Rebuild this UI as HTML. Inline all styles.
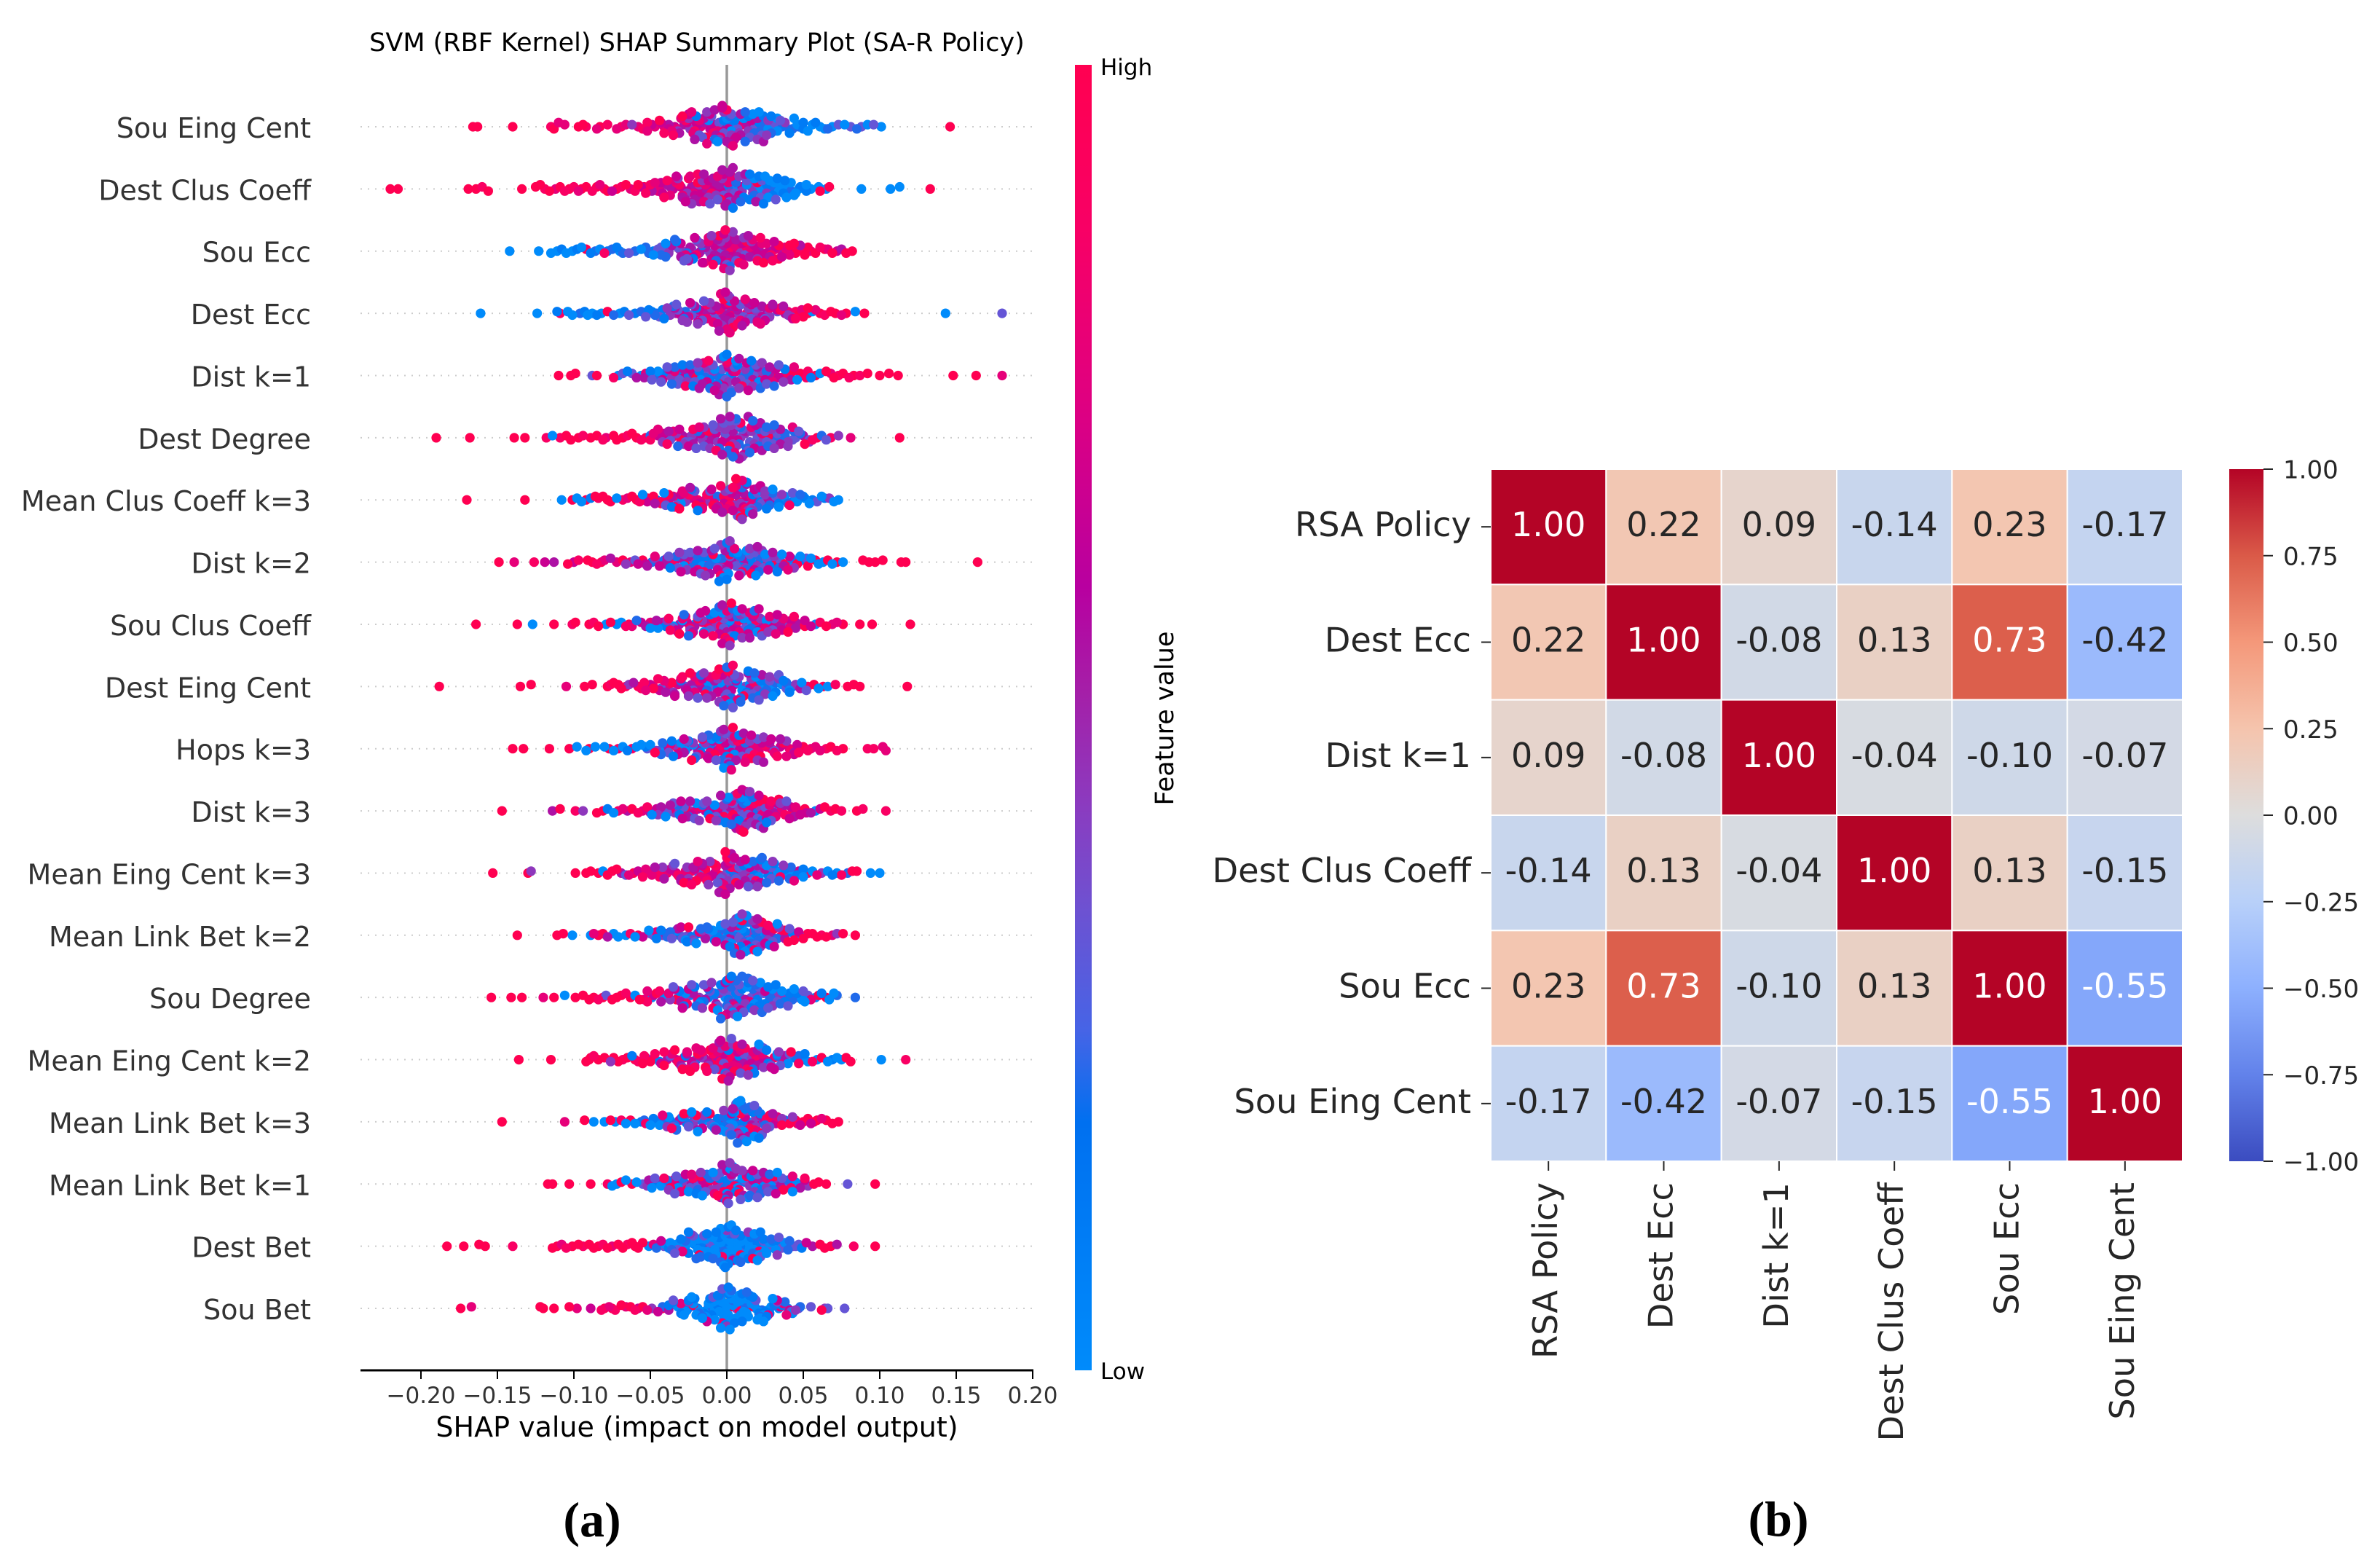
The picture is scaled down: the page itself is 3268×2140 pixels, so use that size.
<!DOCTYPE html>
<html lang="en">
<head>
<meta charset="utf-8">
<title>SHAP summary and correlation heatmap</title>
<style>
html,body{margin:0;padding:0;background:#fff}
svg{display:block}
text{font-family:"DejaVu Sans","Liberation Sans",sans-serif}
.cap{font-family:"Liberation Serif",serif;font-weight:700;font-size:68px}
</style>
</head>
<body>
<svg id="fig" xmlns="http://www.w3.org/2000/svg" width="3268" height="2140" viewBox="0 0 3268 2140">
<rect x="0" y="0" width="3268" height="2140" fill="#fff"/>
<defs>
<linearGradient id="shapGrad" x1="0" y1="1" x2="0" y2="0"></linearGradient>
<linearGradient id="heatGrad" x1="0" y1="1" x2="0" y2="0"></linearGradient>
</defs>
<g id="shapPanel">
<text x="957" y="70" font-size="35" text-anchor="middle" fill="#000">SVM (RBF Kernel) SHAP Summary Plot (SA-R Policy)</text>
<g id="rowLines"></g>
<line x1="998" y1="89" x2="998" y2="1881" stroke="#999" stroke-width="3.5"/>
<g id="dots"></g>
<g id="rowLabels"></g>
<line x1="495" y1="1881" x2="1419" y2="1881" stroke="#000" stroke-width="3"/>
<g id="xAxis"></g>
<text x="957" y="1972" font-size="38" text-anchor="middle" fill="#000">SHAP value (impact on model output)</text>
<rect x="1476" y="89" width="23" height="1792" fill="url(#shapGrad)"/>
<text x="1511" y="103" font-size="31" fill="#000">High</text>
<text x="1511" y="1893" font-size="31" fill="#000">Low</text>
<text transform="translate(1611,986) rotate(-90)" font-size="35" text-anchor="middle" fill="#000">Feature value</text>
<text class="cap" x="813" y="2109" text-anchor="middle" fill="#000">(a)</text>
</g>
<g id="heatPanel">
<g id="heatCells"></g>
<g id="heatAxes"></g>
<rect x="3061" y="644" width="47" height="950" fill="url(#heatGrad)"/>
<g id="heatBar"></g>
<text class="cap" x="2442" y="2108" text-anchor="middle" fill="#000">(b)</text>
</g>
</svg>
<script>
// ---------- SHAP data (values in thousandths of a SHAP unit; feature values on a 0-9 scale) ----------
const featureNames=["Sou Eing Cent","Dest Clus Coeff","Sou Ecc","Dest Ecc","Dist k=1","Dest Degree","Mean Clus Coeff k=3","Dist k=2","Sou Clus Coeff","Dest Eing Cent","Hops k=3","Dist k=3","Mean Eing Cent k=3","Mean Link Bet k=2","Sou Degree","Mean Eing Cent k=2","Mean Link Bet k=3","Mean Link Bet k=1","Dest Bet","Sou Bet"];
const xTickValues=[-0.2,-0.15,-0.1,-0.05,0,0.05,0.1,0.15,0.2];
const xTickLabels=["\u22120.20","\u22120.15","\u22120.10","\u22120.05","0.00","0.05","0.10","0.15","0.20"];

const souEingCentMid=[-52,-47,-43,-41,-38,-36,-34,-32,-30,-28,-27,-25,-24,-22,-21,-20,-18,-17,-15,-13,-11,-10,-8,-6,-5,-3,-2,0,1,3,5,7,9,12,14,15,17,18,20,21,23,24,25,27,29,31,33,36,38,41,43,46,50];
const souEingCentMidFeature=[8,7,6,8,5,7,6,4,7,5,8,6,4,7,5,6,3,7,5,4,6,3,5,7,4,6,3,5,2,4,6,3,5,2,4,3,5,2,4,1,3,5,2,4,1,3,0,2,4,1,2,0,1];
const destClusCoeffMid=[-54,-50,-44,-42,-39,-37,-34,-33,-31,-29,-27,-26,-24,-23,-21,-19,-18,-16,-15,-14,-12,-9,-7,-6,-4,-3,-1,1,2,4,6,8,10,13,15,16,18,19,21,22,24,26,27,29,30,32,34,37,39,42,44,47,52];
const destClusCoeffMidFeature=[9,8,7,6,8,5,7,6,8,5,6,4,7,5,6,8,4,6,5,7,4,6,5,3,6,4,5,7,3,5,2,4,6,3,1,4,2,5,0,3,1,4,0,2,1,3,0,1,0,2,0,0,1];
const souEccMid=[-53,-48,-43,-40,-38,-35,-33,-31,-30,-28,-26,-25,-23,-22,-20,-18,-17,-16,-14,-12,-10,-8,-6,-5,-4,-2,-1,1,2,3,6,8,10,11,13,15,17,19,20,22,24,26,28,29,31,32,34,36,39,41,44,46,51];
const souEccMidFeature=[2,1,3,2,4,3,1,4,5,3,2,5,4,6,3,5,4,6,5,7,4,6,5,8,4,6,5,7,4,6,5,7,6,4,8,5,7,6,4,8,6,7,5,8,6,7,9,6,8,7,9,8,9];
const destEccMid=[-51,-46,-44,-41,-37,-35,-33,-32,-29,-27,-26,-24,-23,-21,-19,-18,-16,-15,-13,-11,-9,-7,-5,-4,-3,-1,0,2,3,4,5,7,9,12,14,16,17,19,20,21,23,25,27,28,30,33,35,38,40,43,45,49,53];
const destEccMidFeature=[1,2,3,1,4,2,5,3,4,2,5,6,3,5,4,6,3,5,7,4,6,3,5,7,4,6,5,3,7,4,6,5,3,7,4,6,5,3,7,4,5,6,4,7,5,6,8,5,4,6,8,7,9];
const distK1Mid=[-54,-49,-44,-42,-39,-36,-34,-33,-31,-29,-28,-26,-24,-22,-21,-19,-18,-16,-14,-13,-11,-9,-6,-5,-3,-2,0,1,3,4,6,8,11,13,14,15,17,18,20,22,23,25,26,28,30,31,34,37,39,42,44,48,53];
const distK1MidFeature=[5,3,2,6,3,4,2,5,3,1,6,4,2,5,3,4,1,5,3,6,2,4,1,5,3,4,2,6,3,1,5,4,2,3,6,1,4,3,5,2,4,6,3,5,7,2,6,4,8,5,7,9,8];
const destDegreeMid=[-50,-45,-41,-38,-36,-33,-31,-29,-27,-25,-23,-22,-20,-17,-15,-13,-12,-9,-7,-5,-3,-1,1,2,4,6,7,9,10,12,14,15,16,18,20,21,23,24,26,27,28,30,31,33,35,36,38,40,43,44,47,50,54];
const destDegreeMidFeature=[8,7,6,5,7,4,6,5,3,6,4,5,3,6,4,2,5,3,6,4,5,3,2,5,4,3,6,2,4,5,3,2,4,6,3,2,5,4,3,2,5,3,4,2,5,3,2,4,3,2,3,5,4];
const meanClusK3Mid=[-52,-47,-43,-40,-38,-36,-34,-32,-30,-29,-27,-25,-24,-22,-21,-19,-18,-16,-14,-12,-10,-8,-6,-4,-2,0,1,2,4,6,8,10,11,13,14,16,17,19,20,22,23,25,26,28,30,32,34,36,37,40,43,45,50];
const meanClusK3MidFeature=[6,5,8,3,7,5,8,2,6,7,4,8,5,7,3,8,6,7,4,8,6,7,5,8,6,7,4,8,6,5,7,4,6,5,3,7,4,5,2,6,3,4,1,5,2,3,1,4,0,2,3,0,1];
const distK2Mid=[-53,-47,-43,-40,-38,-35,-33,-31,-30,-28,-26,-25,-24,-22,-20,-19,-17,-15,-14,-12,-10,-8,-6,-4,-3,-1,0,2,3,5,7,9,11,13,15,16,18,20,21,23,24,26,27,29,31,33,35,37,40,42,44,47,52];
const distK2MidFeature=[6,7,4,5,3,6,2,4,5,3,1,5,3,4,2,5,1,3,4,2,5,1,3,4,2,5,1,3,2,4,1,3,5,2,4,1,3,5,2,4,1,3,6,2,4,1,3,5,7,2,4,6,3];
const souClusCoeffMid=[-50,-46,-42,-39,-37,-35,-32,-31,-29,-28,-26,-24,-23,-21,-19,-17,-16,-15,-13,-11,-9,-7,-5,-3,-2,0,2,3,4,6,8,10,12,14,15,16,18,19,21,23,24,25,27,29,30,32,35,36,38,41,44,45,51];
const souClusCoeffMidFeature=[7,5,6,4,8,3,6,5,7,2,6,4,7,5,3,6,4,7,5,3,8,4,6,5,3,7,4,6,2,5,7,4,3,6,5,2,7,4,6,3,5,7,4,6,3,7,5,6,4,7,8,5,6];
const destEingCentMid=[-54,-48,-44,-40,-38,-35,-34,-31,-30,-27,-26,-25,-23,-21,-19,-18,-16,-15,-13,-10,-8,-6,-5,-3,-1,0,1,3,4,6,9,11,13,14,15,17,18,20,21,23,24,25,27,28,30,32,34,37,39,41,43,48,52];
const destEingCentMidFeature=[8,7,6,5,7,4,6,5,7,3,6,4,5,7,3,5,6,4,2,5,3,6,4,5,3,2,4,6,3,5,2,4,3,1,5,3,2,4,1,3,2,4,1,3,0,2,4,1,3,0,2,5,3];
const hopsK3Mid=[-52,-46,-43,-41,-38,-36,-34,-32,-29,-28,-26,-25,-22,-21,-19,-18,-16,-14,-12,-11,-9,-7,-5,-3,-2,-1,1,3,4,6,8,10,12,13,15,16,18,20,21,23,24,26,28,29,31,32,35,36,39,41,44,46,50];
const hopsK3MidFeature=[3,4,2,5,3,1,4,6,2,5,3,6,4,2,5,7,3,4,6,2,5,3,7,4,5,6,3,7,4,5,6,3,7,5,4,6,7,3,5,6,4,7,5,6,3,7,5,6,4,7,5,6,7];
const distK3Mid=[-50,-45,-42,-39,-37,-34,-32,-30,-28,-26,-24,-23,-21,-19,-16,-13,-9,-7,-4,-2,0,2,4,6,7,9,10,12,13,15,16,17,18,20,21,22,23,24,25,26,27,28,29,31,33,35,36,38,39,42,44,47,52];
const distK3MidFeature=[5,4,6,3,5,4,2,6,3,5,4,6,3,5,2,4,6,3,5,4,2,6,3,5,4,2,6,3,5,4,6,2,5,3,6,4,2,5,3,6,4,7,3,5,6,4,7,5,3,6,5,7,6];
const meanEingK3Mid=[-53,-47,-44,-41,-38,-35,-33,-31,-30,-27,-26,-25,-23,-22,-19,-18,-16,-14,-13,-11,-9,-7,-5,-4,-2,-1,1,2,4,6,8,10,12,14,15,17,18,20,22,23,24,26,27,29,30,33,34,36,38,41,43,46,50];
const meanEingK3MidFeature=[7,6,8,5,7,4,6,8,5,7,4,6,8,5,7,3,6,5,7,4,6,8,5,3,7,6,4,5,7,3,6,4,5,3,6,2,4,5,1,3,4,2,1,3,4,0,2,3,1,2,0,1,0];
const meanLinkK2Mid=[-50,-46,-42,-39,-36,-34,-32,-31,-29,-26,-25,-24,-21,-19,-16,-13,-11,-8,-5,-3,-1,1,3,5,7,9,10,12,14,15,16,17,18,19,20,21,22,23,24,25,26,27,28,29,30,31,33,34,36,38,41,44,47];
const meanLinkK2MidFeature=[3,1,4,2,3,1,5,2,3,1,4,2,3,1,4,2,3,1,4,2,3,1,5,2,3,1,4,2,3,5,2,4,1,3,5,2,4,1,3,6,2,4,1,5,3,6,2,4,7,5,3,8,6];
const souDegreeMid=[-52,-48,-43,-40,-37,-34,-32,-30,-28,-27,-25,-23,-22,-20,-18,-17,-15,-14,-12,-10,-8,-6,-4,-2,0,2,3,5,7,8,10,12,14,16,17,18,20,21,23,24,25,27,28,30,31,33,35,37,38,40,43,46,50];
const souDegreeMidFeature=[7,6,5,8,4,6,3,5,2,4,6,3,5,2,4,1,3,5,2,4,1,3,2,4,1,3,2,4,1,3,2,4,1,3,2,4,1,3,2,4,1,3,2,4,1,3,2,4,1,3,2,1,3];
const meanEingK2Mid=[-54,-49,-43,-41,-38,-36,-33,-31,-29,-28,-26,-25,-23,-21,-20,-18,-16,-15,-12,-9,-7,-5,-4,-2,-1,1,2,4,6,7,9,11,13,14,16,17,19,20,22,23,24,26,27,29,31,33,34,36,38,41,44,47,51];
const meanEingK2MidFeature=[8,7,6,8,5,7,6,8,4,7,5,8,6,4,7,5,8,6,4,7,5,8,6,3,7,5,8,4,6,7,3,5,8,4,6,2,7,5,3,6,4,1,5,3,6,2,4,1,5,3,0,2,1];
const meanLinkK3Mid=[-54,-48,-44,-42,-39,-37,-35,-33,-30,-28,-27,-25,-24,-22,-20,-19,-17,-15,-13,-10,-8,-6,-4,-2,0,2,4,5,6,7,9,10,12,13,15,16,17,18,19,20,21,22,23,24,25,26,27,28,30,32,36,40,46];
const meanLinkK3MidFeature=[2,1,3,2,4,1,3,2,5,1,3,2,4,1,3,5,2,4,1,3,2,5,1,4,2,3,5,1,4,2,3,6,1,4,2,5,1,3,4,2,6,1,3,5,2,4,7,3,5,6,4,7,8];
const meanLinkK1Mid=[-51,-47,-42,-39,-38,-35,-33,-31,-29,-27,-26,-24,-23,-21,-19,-17,-16,-14,-13,-11,-8,-6,-4,-3,-1,0,2,3,5,7,8,10,12,14,15,17,18,20,21,22,24,26,27,29,30,32,34,36,38,40,43,46,51];
const meanLinkK1MidFeature=[5,3,6,2,4,7,3,5,2,6,4,3,7,5,2,4,6,3,5,2,7,4,3,5,2,6,4,3,5,2,7,4,3,5,2,6,4,3,5,2,7,4,3,5,2,6,4,3,5,2,7,4,6];
const destBetMid=[-46,-41,-38,-36,-33,-32,-30,-28,-27,-25,-24,-22,-21,-19,-17,-16,-14,-13,-11,-9,-7,-6,-4,-2,-1,1,3,4,6,7,9,11,12,14,15,17,18,20,21,22,24,25,26,28,29,31,32,34,36,38,41,45,49];
const destBetMidFeature=[2,3,1,2,0,3,1,0,2,1,0,3,1,0,2,1,0,1,3,0,1,0,2,1,0,1,0,2,1,0,1,3,0,1,0,2,0,1,0,1,3,0,1,0,2,1,0,3,1,0,2,3,1];
const souBetMid=[-42,-38,-35,-33,-30,-28,-27,-25,-24,-22,-21,-19,-18,-16,-15,-13,-12,-10,-8,-6,-4,-3,-1,1,2,4,5,7,9,10,12,14,15,16,18,19,21,22,23,24,26,27,28,30,31,33,34,36,38,40,42,45,48];
const souBetMidFeature=[2,1,3,0,1,2,0,1,3,0,1,0,2,0,1,0,2,1,0,1,0,3,0,1,0,2,0,1,0,1,2,0,1,0,3,0,1,0,2,0,1,0,1,0,2,3,0,1,2,0,3,4,2];

const souEingCentShap=[-166,-163,-140,-115,-113,-110,-106,-97,-94,-92,-85,-83,-78,-72,-69,-66,-62,-58,-55,-52,-49,-44,-41,-38,-35,-33,-31,-29,-26,-25,-23,-21,-20,-19,-18,-16,-15,-14,-13,-12,-11,-10,-9,-8,-8,-7,-6,-5,-4,-3,-2,-2,-1,0,0,1,2,2,3,3,4,5,6,7,8,9,10,11,12,13,14,15,16,17,18,20,21,22,24,26,27,29,31,33,35,38,41,44,47,50,53,56,58,61,64,66,69,73,77,81,85,88,92,96,101,146];
const souEingCentFeature=[9,9,9,8,9,7,7,9,9,8,7,9,8,7,8,7,4,7,8,7,6,9,7,6,8,7,5,9,6,4,7,8,1,6,7,3,5,9,7,0,6,4,8,2,6,5,0,3,7,6,1,4,5,0,8,6,2,5,0,3,7,1,6,0,4,5,7,0,2,5,1,4,6,0,3,5,0,2,1,4,0,2,3,0,3,1,2,0,2,1,0,0,1,0,0,2,0,3,0,3,2,3,0,3,0,9];
const destClusCoeffShap=[-220,-215,-169,-164,-160,-156,-134,-125,-122,-119,-116,-112,-109,-106,-103,-100,-97,-95,-92,-88,-85,-83,-80,-78,-75,-72,-69,-66,-63,-60,-58,-56,-53,-51,-49,-47,-45,-43,-41,-39,-37,-35,-33,-32,-30,-29,-27,-26,-25,-23,-22,-21,-20,-19,-18,-17,-16,-15,-13,-12,-11,-10,-9,-8,-7,-6,-5,-4,-3,-2,-2,-1,0,0,1,1,2,2,3,4,5,6,7,8,9,10,11,12,13,14,15,17,18,19,20,21,22,23,25,26,28,30,31,33,35,36,38,40,42,45,48,52,55,60,61,65,67,88,107,113,133];
const destClusCoeffFeature=[9,9,9,9,8,9,9,9,9,8,9,7,9,8,9,8,7,9,9,8,9,7,8,9,6,9,8,9,7,8,9,6,8,9,5,7,7,6,8,5,7,6,8,4,6,7,5,6,8,4,7,5,6,9,5,6,4,7,5,6,3,8,5,6,4,7,5,9,5,3,6,4,7,5,2,6,5,4,7,1,3,5,0,6,2,4,1,5,0,3,1,4,0,2,9,1,0,3,0,1,0,2,0,1,0,0,1,0,0,0,1,0,0,0,9,0,9,0,0,0,9];
const souEccShap=[-142,-123,-115,-111,-108,-105,-101,-98,-95,-92,-89,-86,-83,-80,-78,-75,-72,-70,-68,-64,-60,-56,-53,-51,-48,-45,-43,-40,-38,-36,-34,-32,-30,-29,-27,-26,-24,-22,-21,-20,-19,-17,-16,-15,-14,-13,-12,-11,-10,-9,-8,-7,-6,-6,-5,-4,-3,-2,-2,-1,-1,0,0,1,1,2,2,3,4,5,6,6,7,8,9,10,11,12,13,14,15,16,17,18,20,21,23,24,26,28,30,32,34,36,38,41,43,45,48,51,53,55,58,61,64,66,69,72,75,78,82];
const souEccFeature=[0,0,0,0,1,0,0,1,0,9,1,2,0,8,1,2,1,0,2,3,2,0,3,2,0,3,2,0,4,5,2,3,6,4,7,3,5,1,6,8,4,6,2,7,3,5,7,4,6,8,5,2,7,5,9,3,6,7,5,4,8,6,3,7,5,2,8,6,4,7,3,6,5,8,4,6,7,3,9,5,7,4,9,6,8,5,7,9,6,5,8,6,9,5,7,9,6,9,5,8,9,7,9,8,9,7,9,6,5,9,9];
const destEccShap=[-161,-124,-111,-109,-104,-101,-96,-93,-91,-88,-85,-82,-78,-74,-70,-67,-64,-60,-56,-53,-49,-47,-44,-42,-39,-37,-34,-33,-30,-28,-26,-25,-23,-21,-20,-19,-18,-16,-15,-14,-13,-12,-10,-9,-8,-7,-6,-5,-5,-4,-3,-2,-1,-1,0,0,1,1,2,2,2,3,4,5,6,7,8,9,10,11,12,13,14,14,15,16,18,19,20,22,23,25,26,28,30,33,35,37,40,42,45,47,50,53,56,58,61,64,68,71,75,78,84,90,143,180];
const destEccFeature=[0,0,1,8,0,0,2,1,0,0,1,0,9,2,0,1,3,1,2,3,1,2,3,1,4,2,5,3,6,2,4,7,3,5,1,6,4,7,3,5,8,6,4,7,3,5,6,8,4,7,5,9,3,6,7,5,8,4,6,2,7,5,9,3,6,8,4,7,5,3,6,8,4,5,7,3,6,4,5,7,6,3,5,4,6,3,9,5,7,4,8,9,9,9,0,7,9,8,9,9,7,9,0,9,0,3];
const distK1Shap=[-110,-102,-99,-88,-85,-74,-71,-68,-65,-62,-59,-56,-53,-50,-47,-45,-43,-41,-38,-36,-34,-32,-30,-28,-27,-25,-24,-22,-20,-19,-18,-17,-15,-14,-13,-12,-11,-9,-8,-8,-7,-6,-5,-4,-3,-2,-2,-1,0,0,1,1,2,2,3,4,5,6,6,7,8,9,10,11,12,13,14,15,16,17,19,20,21,23,24,26,28,30,32,34,36,38,41,43,46,49,52,55,58,61,65,68,70,73,76,80,83,87,92,100,106,112,148,163,180];
const distK1Feature=[9,9,9,3,9,8,0,3,1,3,5,0,7,1,3,0,3,1,6,2,7,3,1,5,8,2,6,1,9,3,5,0,7,2,4,8,1,3,6,0,5,2,9,4,1,6,0,3,7,1,4,8,0,5,2,6,3,0,7,1,5,3,8,0,4,6,2,9,1,5,3,7,0,4,8,2,5,9,6,3,8,1,7,9,0,3,8,1,9,0,9,7,9,8,9,8,9,8,9,9,9,9,9,9,7];
const destDegreeShap=[-190,-168,-139,-132,-118,-114,-109,-105,-102,-97,-94,-89,-85,-81,-79,-74,-72,-68,-65,-62,-59,-56,-53,-50,-48,-45,-42,-39,-37,-35,-32,-30,-28,-26,-24,-22,-21,-19,-18,-16,-15,-13,-12,-11,-10,-8,-7,-6,-5,-4,-3,-2,-1,-1,0,1,2,2,3,3,4,4,5,5,6,6,7,7,8,8,9,9,10,11,12,13,14,15,16,17,18,19,20,21,22,23,25,26,27,29,31,33,35,38,40,43,45,48,51,54,56,59,62,65,68,73,81,113];
const destDegreeFeature=[9,9,9,9,8,0,8,9,9,9,8,9,9,8,7,9,9,9,8,9,9,8,9,2,7,6,4,8,3,7,2,9,4,6,3,8,5,2,7,4,3,6,9,4,5,3,8,4,2,5,6,3,7,4,2,5,9,3,6,4,2,5,7,3,4,2,6,3,5,2,8,4,3,6,4,2,5,3,7,2,4,6,3,2,5,7,3,2,9,4,2,3,5,2,4,7,3,2,9,3,8,9,2,3,8,4,7,9];
const meanClusK3Shap=[-170,-132,-108,-101,-98,-95,-92,-89,-86,-84,-81,-78,-76,-72,-68,-65,-62,-59,-57,-55,-52,-48,-46,-43,-41,-39,-38,-36,-35,-33,-31,-30,-28,-26,-25,-23,-22,-20,-19,-17,-16,-14,-13,-11,-10,-9,-7,-6,-5,-3,-2,-1,0,1,2,2,3,4,5,6,6,7,7,8,8,9,9,10,10,11,11,12,12,13,13,14,15,16,16,17,17,18,19,20,21,22,23,25,27,28,30,32,34,36,38,41,43,46,48,51,54,56,59,62,64,67,70,73];
const meanClusK3Feature=[9,9,0,9,0,0,9,1,9,8,9,9,9,0,8,7,9,9,8,0,9,9,1,9,0,7,9,1,8,3,9,0,7,5,8,2,6,9,1,7,9,5,8,3,7,9,6,2,8,5,9,4,7,8,3,9,6,8,4,7,9,5,3,8,6,9,4,2,7,5,9,3,8,1,6,4,0,7,3,5,1,6,0,3,5,1,0,4,6,2,0,3,0,1,0,8,1,0,2,0,0,1,3,0,1,4,0,0];
const distK2Shap=[-149,-139,-126,-119,-113,-104,-100,-97,-91,-88,-85,-82,-80,-76,-72,-68,-66,-63,-60,-58,-55,-52,-49,-47,-44,-41,-39,-37,-34,-32,-30,-28,-26,-25,-23,-21,-20,-19,-17,-16,-15,-14,-13,-11,-10,-9,-8,-7,-6,-5,-4,-4,-3,-2,-2,-1,0,0,1,1,2,2,3,3,4,5,6,7,8,9,10,11,12,13,14,15,16,17,18,19,20,21,22,24,25,27,28,30,32,34,36,38,41,43,46,48,51,53,55,58,60,63,66,69,72,76,89,93,97,102,114,117,164];
const distK2Feature=[9,7,8,6,5,9,6,8,9,9,8,9,7,5,7,9,4,7,3,6,9,5,2,4,6,2,5,1,8,3,6,0,4,9,2,6,1,7,3,0,8,4,1,5,2,9,3,0,6,1,4,8,2,5,0,7,3,1,6,0,4,9,2,5,1,7,3,0,6,2,8,1,4,0,5,3,9,1,6,0,4,2,7,3,0,8,1,5,9,2,0,9,6,0,9,0,1,9,0,9,0,0,9,0,9,0,9,9,9,9,9,9,9];
const souClusCoeffShap=[-164,-137,-127,-113,-101,-99,-90,-87,-84,-79,-76,-72,-69,-66,-64,-62,-59,-56,-53,-50,-48,-45,-42,-40,-38,-35,-33,-31,-29,-27,-25,-24,-22,-21,-19,-18,-16,-15,-14,-12,-11,-10,-9,-8,-7,-6,-5,-4,-3,-3,-2,-1,-1,0,0,1,1,2,2,3,3,4,5,6,7,7,8,9,10,11,12,13,14,15,16,17,18,19,20,21,22,23,25,26,28,30,31,33,35,37,40,42,45,48,51,55,58,61,65,69,72,76,87,95,120];
const souClusCoeffFeature=[9,9,0,9,8,9,9,8,9,0,9,0,0,8,9,7,2,6,5,0,8,0,7,1,8,0,6,9,0,7,2,8,5,0,9,3,7,0,6,8,1,5,9,0,4,7,2,8,0,6,3,9,0,5,7,1,4,8,0,3,9,6,1,5,2,0,8,4,6,0,3,9,1,7,0,5,2,8,0,6,4,9,6,0,7,9,3,6,8,7,9,6,5,8,9,6,0,8,9,7,7,9,9,9,9];
const destEingCentShap=[-188,-135,-128,-105,-93,-88,-78,-76,-74,-71,-69,-66,-64,-61,-58,-56,-53,-50,-48,-45,-43,-41,-39,-36,-34,-32,-30,-29,-27,-25,-24,-22,-21,-20,-18,-17,-16,-14,-13,-12,-11,-9,-8,-7,-6,-6,-5,-4,-3,-2,-1,-1,0,0,1,1,2,2,3,3,4,4,5,5,6,7,7,8,9,10,11,12,13,14,15,16,17,18,19,21,22,23,25,26,28,30,32,34,36,39,41,45,49,53,57,60,63,66,71,79,83,87,118];
const destEingCentFeature=[9,9,9,7,9,9,9,8,9,9,9,8,4,5,9,8,7,6,9,8,3,7,4,9,5,7,2,8,5,6,9,3,7,5,8,2,6,9,4,0,7,3,5,8,1,4,9,0,6,2,5,7,0,3,9,1,4,0,6,2,8,0,3,5,1,7,0,4,2,0,9,3,1,5,0,4,2,8,0,3,1,5,0,2,4,0,1,3,0,2,1,4,0,8,9,0,9,0,8,9,9,9,9];
const hopsK3Shap=[-140,-133,-116,-103,-98,-92,-90,-86,-80,-77,-74,-71,-68,-65,-62,-59,-56,-53,-50,-47,-44,-42,-40,-37,-35,-33,-30,-28,-27,-25,-23,-22,-20,-19,-17,-16,-15,-13,-12,-11,-10,-9,-8,-7,-6,-5,-4,-4,-3,-2,-1,-1,0,0,1,1,2,2,3,3,4,5,5,6,7,8,9,10,11,12,13,14,15,16,17,18,20,21,22,24,25,27,29,31,33,35,37,39,42,44,47,50,53,55,58,61,65,68,72,76,92,96,102,104];
const hopsK3Feature=[9,9,9,9,0,0,9,0,0,9,0,8,0,1,8,0,0,1,0,9,0,2,0,7,1,9,0,6,0,1,9,0,3,6,1,8,0,5,2,7,0,3,9,1,6,0,4,8,2,0,7,3,9,1,5,0,8,2,6,4,9,0,7,3,8,1,6,9,5,2,8,7,3,9,6,8,4,7,9,5,8,6,9,7,8,6,9,7,8,6,8,9,8,7,7,7,8,9,8,9,8,8,7,7];
const distK3Shap=[-147,-114,-109,-99,-94,-85,-81,-78,-74,-71,-68,-65,-62,-58,-55,-52,-49,-46,-43,-40,-37,-35,-33,-31,-29,-27,-25,-24,-22,-20,-18,-17,-15,-14,-12,-11,-10,-8,-7,-6,-5,-3,-2,-1,0,0,1,2,3,3,4,5,6,6,7,8,8,9,10,10,11,11,12,12,13,13,14,14,15,15,16,17,18,19,20,21,22,23,24,26,27,29,30,32,34,36,38,41,43,45,48,51,55,58,61,64,68,71,75,85,89,104];
const distK3Feature=[9,5,9,8,4,9,9,1,0,8,7,5,9,8,7,8,0,6,5,0,7,3,8,1,6,9,2,5,7,0,4,8,3,6,1,9,5,0,4,7,2,6,9,1,3,8,0,5,7,2,9,4,0,6,8,3,1,7,5,0,9,2,4,8,0,6,3,9,1,7,4,0,8,5,2,9,3,7,9,1,6,8,3,7,9,5,8,6,9,7,6,9,5,0,6,9,8,9,8,9,8,8];
const meanEingK3Shap=[-153,-130,-128,-99,-92,-89,-84,-81,-78,-75,-72,-69,-66,-64,-61,-58,-55,-52,-49,-47,-44,-42,-39,-37,-34,-32,-30,-28,-26,-25,-23,-21,-20,-18,-17,-16,-14,-13,-12,-11,-9,-8,-7,-6,-5,-4,-3,-3,-2,-1,-1,0,0,1,1,2,2,3,3,4,5,5,6,7,8,9,10,11,12,13,14,15,16,17,18,19,20,21,22,23,25,26,28,29,31,33,35,37,40,42,44,47,50,53,56,59,62,66,69,72,75,79,82,85,94,100];
const meanEingK3Feature=[9,9,4,9,9,9,9,0,9,9,9,5,3,7,9,6,8,9,7,5,8,4,9,6,3,8,5,9,7,4,8,6,9,3,7,5,9,8,4,6,9,5,7,3,9,6,8,4,7,9,5,8,3,6,9,1,7,5,8,4,6,2,9,7,3,5,8,1,6,4,0,7,3,5,1,8,4,0,6,2,5,0,7,3,1,0,8,4,0,2,7,6,1,8,0,7,4,0,1,0,8,2,9,9,0,0];
const meanLinkK2Shap=[-137,-111,-107,-101,-89,-87,-84,-81,-78,-74,-71,-66,-63,-60,-58,-55,-51,-48,-46,-43,-40,-37,-35,-33,-30,-28,-27,-25,-23,-22,-20,-18,-17,-15,-14,-12,-10,-9,-7,-6,-4,-3,-2,-1,0,1,2,2,3,4,4,5,5,6,6,7,7,8,8,9,9,10,10,11,11,12,12,13,13,14,14,15,15,16,17,18,18,19,19,20,21,23,25,26,27,29,31,33,35,38,40,42,44,46,48,50,53,56,59,62,65,69,72,76,84];
const meanLinkK2Feature=[9,9,9,0,0,7,9,9,5,0,0,0,8,0,9,6,0,3,7,1,5,2,8,0,6,3,0,9,1,4,0,7,2,0,5,1,3,0,6,1,0,4,2,6,0,3,1,5,0,3,2,8,1,0,4,2,7,0,3,1,5,0,9,2,4,0,1,6,0,3,2,7,0,1,4,0,8,2,5,0,3,9,0,6,8,2,9,0,8,9,9,1,9,9,0,9,9,9,9,8,9,7,4,9,9];
const souDegreeShap=[-154,-141,-134,-120,-113,-106,-99,-94,-90,-87,-84,-81,-79,-75,-72,-69,-66,-63,-60,-57,-54,-52,-49,-46,-44,-41,-38,-35,-33,-31,-29,-27,-26,-24,-22,-21,-19,-18,-16,-15,-13,-12,-11,-9,-8,-7,-6,-5,-4,-3,-2,-1,-1,0,0,1,1,2,2,3,3,4,4,5,5,6,6,7,7,8,9,9,10,11,12,13,14,15,16,17,18,19,20,21,22,24,25,27,28,30,32,34,36,38,41,44,47,49,51,53,55,58,60,62,65,67,70,72,84];
const souDegreeFeature=[9,9,9,7,9,0,9,9,9,9,8,9,3,9,9,9,8,9,0,9,7,8,0,9,8,0,7,3,9,1,6,0,8,2,5,1,7,0,4,2,6,1,3,8,2,5,0,4,1,7,3,5,0,2,6,1,3,8,2,4,1,5,0,3,7,2,1,4,0,3,6,2,1,3,5,0,2,7,1,3,0,2,4,1,0,3,6,1,2,0,1,4,0,8,1,0,8,0,0,3,7,0,9,1,9,0,0,2,2];
const meanEingK2Shap=[-136,-115,-92,-90,-89,-87,-84,-80,-76,-74,-71,-68,-65,-62,-60,-58,-55,-53,-50,-47,-44,-41,-39,-37,-34,-32,-30,-29,-27,-26,-24,-23,-21,-20,-19,-17,-16,-14,-13,-12,-11,-10,-9,-8,-7,-6,-5,-4,-4,-3,-2,-1,0,0,0,1,1,2,2,3,3,4,5,6,7,7,8,9,10,11,12,13,14,15,16,17,18,19,20,21,23,24,25,27,29,31,33,35,37,40,42,45,47,50,53,56,59,62,66,69,72,75,78,81,101,117];
const meanEingK2Feature=[9,9,9,9,9,8,9,9,4,9,9,8,9,1,9,8,9,5,9,8,1,9,7,3,9,8,5,9,1,7,9,6,8,2,9,7,4,9,8,5,9,6,8,3,9,7,5,8,4,9,6,2,8,7,4,9,1,6,8,5,3,7,9,4,6,8,1,7,5,3,8,0,6,9,4,7,1,8,5,0,7,3,9,1,6,8,0,3,7,0,9,1,8,0,0,8,0,9,0,1,0,0,9,9,0,8];
const meanLinkK3Shap=[-147,-106,-93,-87,-80,-76,-73,-69,-66,-63,-60,-56,-53,-50,-47,-44,-42,-40,-38,-36,-34,-33,-31,-29,-28,-26,-25,-23,-22,-20,-19,-17,-16,-14,-13,-11,-10,-8,-7,-6,-4,-3,-2,-1,0,1,2,2,3,3,4,4,5,5,6,6,7,7,8,8,9,9,10,10,11,11,12,12,13,13,14,14,15,16,17,18,18,19,20,21,22,23,24,26,28,30,33,36,38,41,43,45,48,50,53,55,57,59,62,65,69,73];
const meanLinkK3Feature=[9,7,9,0,0,9,0,8,0,9,0,1,8,0,1,0,7,1,0,8,2,0,5,0,9,1,3,0,4,9,0,2,6,0,1,9,3,0,5,1,0,7,2,0,4,1,3,0,6,2,0,1,5,0,3,2,7,0,1,4,0,9,2,1,0,3,6,1,0,2,5,0,8,1,3,9,0,4,7,1,5,9,2,8,9,3,7,9,1,9,4,9,6,9,9,6,9,9,7,9,9,9];
const meanLinkK1Shap=[-117,-114,-103,-89,-78,-75,-72,-69,-66,-62,-59,-55,-52,-49,-46,-43,-41,-39,-37,-34,-32,-30,-28,-26,-25,-23,-22,-20,-19,-17,-16,-14,-13,-12,-10,-9,-8,-7,-6,-5,-4,-3,-2,-1,-1,0,0,0,1,1,2,2,2,3,4,5,6,6,7,8,9,10,11,12,13,14,15,16,17,19,20,21,22,24,25,26,28,29,31,33,35,37,39,42,43,45,48,51,53,57,60,65,79,97];
const meanLinkK1Feature=[9,9,9,9,8,0,0,9,0,9,0,3,4,0,1,0,8,1,9,3,0,7,2,9,0,5,8,1,3,9,0,6,2,9,4,0,7,3,9,1,5,0,8,2,4,0,7,1,5,3,9,0,2,6,0,8,1,4,0,9,3,0,5,2,8,0,4,1,6,0,3,9,1,5,0,7,2,0,9,0,5,9,3,8,0,0,5,8,4,9,9,9,3,9];
const destBetShap=[-183,-172,-162,-158,-140,-114,-111,-108,-105,-101,-97,-94,-90,-87,-84,-81,-78,-75,-71,-68,-65,-62,-60,-58,-55,-51,-48,-43,-40,-37,-34,-31,-29,-27,-25,-24,-23,-21,-20,-19,-18,-17,-16,-15,-14,-13,-12,-11,-10,-9,-8,-7,-6,-5,-4,-4,-3,-2,-2,-1,-1,0,0,0,1,1,2,2,3,3,4,4,5,5,6,7,7,8,9,9,10,11,12,13,14,15,16,17,18,19,20,21,22,23,24,26,28,30,33,36,40,43,47,52,56,61,64,68,72,83,97];
const destBetFeature=[9,9,9,9,8,9,9,7,8,9,9,8,9,9,9,8,9,7,9,9,8,9,9,9,9,0,7,6,0,0,3,0,7,0,1,4,0,0,2,0,9,1,0,3,0,0,1,5,0,2,0,0,3,1,0,0,8,0,2,0,1,0,4,0,0,1,0,2,0,0,6,1,0,3,0,0,1,0,9,2,0,0,1,0,4,0,1,9,0,2,0,8,3,0,1,0,3,1,4,3,2,4,3,6,5,9,9,9,5,8,9];
const souBetShap=[-174,-167,-122,-120,-113,-103,-98,-89,-82,-80,-77,-75,-73,-69,-66,-63,-60,-58,-55,-52,-49,-45,-42,-38,-35,-32,-30,-28,-26,-25,-23,-22,-20,-19,-18,-16,-15,-14,-13,-12,-11,-10,-9,-9,-8,-7,-6,-5,-5,-4,-3,-3,-2,-2,-1,-1,0,0,0,1,1,1,2,2,3,3,4,4,5,5,6,6,7,8,8,9,10,11,12,13,13,14,15,16,17,18,19,20,21,22,24,25,27,29,31,33,35,37,39,41,43,47,55,62,64,66,77];
const souBetFeature=[9,7,9,9,9,9,7,6,8,9,7,9,8,9,7,9,8,6,9,7,4,6,9,5,1,0,7,0,1,4,0,9,0,1,0,2,0,0,6,0,1,0,0,3,0,0,1,0,2,0,0,8,0,0,1,0,0,4,0,0,1,0,0,9,0,2,0,0,1,0,0,3,0,0,8,0,1,0,0,2,0,0,9,0,1,0,3,0,0,2,0,1,7,0,1,6,7,7,7,6,0,3,3,9,4,3,3];

const rowMidValues=[souEingCentMid,destClusCoeffMid,souEccMid,destEccMid,distK1Mid,destDegreeMid,meanClusK3Mid,distK2Mid,souClusCoeffMid,destEingCentMid,hopsK3Mid,distK3Mid,meanEingK3Mid,meanLinkK2Mid,souDegreeMid,meanEingK2Mid,meanLinkK3Mid,meanLinkK1Mid,destBetMid,souBetMid];
const rowMidFeatures=[souEingCentMidFeature,destClusCoeffMidFeature,souEccMidFeature,destEccMidFeature,distK1MidFeature,destDegreeMidFeature,meanClusK3MidFeature,distK2MidFeature,souClusCoeffMidFeature,destEingCentMidFeature,hopsK3MidFeature,distK3MidFeature,meanEingK3MidFeature,meanLinkK2MidFeature,souDegreeMidFeature,meanEingK2MidFeature,meanLinkK3MidFeature,meanLinkK1MidFeature,destBetMidFeature,souBetMidFeature];
const rowShapValues=[souEingCentShap,destClusCoeffShap,souEccShap,destEccShap,distK1Shap,destDegreeShap,meanClusK3Shap,distK2Shap,souClusCoeffShap,destEingCentShap,hopsK3Shap,distK3Shap,meanEingK3Shap,meanLinkK2Shap,souDegreeShap,meanEingK2Shap,meanLinkK3Shap,meanLinkK1Shap,destBetShap,souBetShap];
const rowFeatureValues=[souEingCentFeature,destClusCoeffFeature,souEccFeature,destEccFeature,distK1Feature,destDegreeFeature,meanClusK3Feature,distK2Feature,souClusCoeffFeature,destEingCentFeature,hopsK3Feature,distK3Feature,meanEingK3Feature,meanLinkK2Feature,souDegreeFeature,meanEingK2Feature,meanLinkK3Feature,meanLinkK1Feature,destBetFeature,souBetFeature];

// ---------- Heatmap data ----------
const heatmapLabels=["RSA Policy","Dest Ecc","Dist k=1","Dest Clus Coeff","Sou Ecc","Sou Eing Cent"];
const heatmapRow0=[1.00,0.22,0.09,-0.14,0.23,-0.17];
const heatmapRow1=[0.22,1.00,-0.08,0.13,0.73,-0.42];
const heatmapRow2=[0.09,-0.08,1.00,-0.04,-0.10,-0.07];
const heatmapRow3=[-0.14,0.13,-0.04,1.00,0.13,-0.15];
const heatmapRow4=[0.23,0.73,-0.10,0.13,1.00,-0.55];
const heatmapRow5=[-0.17,-0.42,-0.07,-0.15,-0.55,1.00];
const heatmapMatrix=[heatmapRow0,heatmapRow1,heatmapRow2,heatmapRow3,heatmapRow4,heatmapRow5];
const heatBarTicks=[1,0.75,0.5,0.25,0,-0.25,-0.5,-0.75,-1];
const heatBarLabels=["1.00","0.75","0.50","0.25","0.00","\u22120.25","\u22120.50","\u22120.75","\u22121.00"];

// ---------- Scales ----------
const NS='http://www.w3.org/2000/svg';
function mk(tag,attrs,parent,txt){const e=document.createElementNS(NS,tag);for(const k in attrs)e.setAttribute(k,attrs[k]);if(txt!==undefined)e.textContent=txt;parent.appendChild(e);return e;}
function xScale(v){return 998+v*2100;}
function rowY(i){return 174+i*85.37;}
function lerpStops(stops,t){t=Math.max(0,Math.min(1,t));for(let i=1;i<stops.length;i++){if(t<=stops[i][0]){const a=stops[i-1],b=stops[i],u=(t-a[0])/(b[0]-a[0]);return 'rgb('+[1,2,3].map(j=>Math.round(a[j]+(b[j]-a[j])*u)).join(',')+')';}}const l=stops[stops.length-1];return 'rgb('+l[1]+','+l[2]+','+l[3]+')';}
const shapCmap=[[0,0,139,251],[0.19,0,112,240],[0.26,70,100,230],[0.36,112,80,208],[0.43,138,60,192],[0.52,165,31,168],[0.6,184,0,160],[0.745,224,0,128],[0.875,248,0,101],[1,255,0,81]];
const coolwarm=[[0,59,76,192],[0.125,98,130,234],[0.25,141,176,254],[0.375,184,208,249],[0.5,221,221,221],[0.625,245,196,173],[0.75,244,152,122],[0.875,218,90,72],[1,180,4,38]];
function fillGrad(id,stops){const g=document.getElementById(id);stops.forEach(s=>{mk('stop',{offset:s[0],'stop-color':'rgb('+s[1]+','+s[2]+','+s[3]+')'},g);});}
fillGrad('shapGrad',shapCmap);
fillGrad('heatGrad',coolwarm);

// ---------- Beeswarm layout (same stacking as a SHAP summary plot) ----------
const binWidth=10, swarmHalfHeight=29;
// Fixed scramble so stacks within a bin are not ordered by value (avoids a saw-tooth outline).
function scramble(i){return (i*37)%101;}
function swarmOffsets(vals){
  const q=vals.map(v=>Math.round(v/binWidth));
  const order=vals.map((v,i)=>i).sort((a,b)=>q[a]-q[b]||scramble(a)-scramble(b)||a-b);
  const ys=new Array(vals.length).fill(0);let layer=0,last=null,maxY=1;
  order.forEach(i=>{if(q[i]!==last)layer=0;ys[i]=Math.ceil(layer/2)*((layer%2)*2-1);maxY=Math.max(maxY,Math.abs(ys[i]));layer++;last=q[i];});
  return ys.map(y=>y*swarmHalfHeight/maxY);
}

// ---------- Draw SHAP panel ----------
const gLines=document.getElementById('rowLines'),gDots=document.getElementById('dots'),gLabels=document.getElementById('rowLabels'),gX=document.getElementById('xAxis');
featureNames.forEach((name,r)=>{
  const y=rowY(r);
  const line=mk('line',{x1:495,x2:1419,y1:y,y2:y,stroke:'#ccc','stroke-width':2,'stroke-dasharray':'2 8'},gLines);
  
  
  const lab=mk('text',{x:427,y:y+15,'text-anchor':'end','font-size':38,fill:'#333'},gLabels,name);
  
  
  const vals=rowShapValues[r].concat(rowMidValues[r]);
  const base=rowShapValues[r].length;
  const off=swarmOffsets(vals);
  const drawOrder=vals.map((v,i)=>i).sort((a,b)=>scramble(a)-scramble(b)||a-b);
  drawOrder.forEach(i=>{
    const v=vals[i];
    const fv=i<base?rowFeatureValues[r][i]:rowMidFeatures[r][i-base];
    const f=fv===undefined?4:fv;
    const dot=mk('circle',{cx:xScale(v/1000).toFixed(1),cy:(y-off[i]).toFixed(1),r:6.6,fill:lerpStops(shapCmap,f/9)},gDots);
    
    
  });
});
xTickValues.forEach((v,i)=>{
  const x=xScale(v);
  const t=mk('line',{x1:x,x2:x,y1:1881,y2:1893,stroke:'#000','stroke-width':2},gX);
  
  
  const l=mk('text',{x:x,y:1926,'text-anchor':'middle','font-size':31,fill:'#333'},gX,xTickLabels[i]);
  
  
});

// ---------- Draw heatmap ----------
const hx0=2047,hy0=644,cell=950/6;
const gCells=document.getElementById('heatCells'),gAxes=document.getElementById('heatAxes'),gBar=document.getElementById('heatBar');
function heatColor(v){return lerpStops(coolwarm,(v+1)/2);}
heatmapMatrix.forEach((row,r)=>{
  row.forEach((v,c)=>{
    const rc=mk('rect',{x:hx0+c*cell,y:hy0+r*cell,width:cell,height:cell,fill:heatColor(v),stroke:'#fff','stroke-width':2},gCells);
    
    
    const light=(v>=0.6||v<=-0.5);
    const tx=mk('text',{x:hx0+(c+.5)*cell,y:hy0+(r+.5)*cell+13,'text-anchor':'middle','font-size':46,fill:light?'#fff':'#262626'},gCells,v.toFixed(2));
    
    
  });
});
heatmapLabels.forEach((name,i)=>{
  const cy=hy0+(i+.5)*cell,cx=hx0+(i+.5)*cell;
  const t1=mk('line',{x1:hx0-13,x2:hx0,y1:cy,y2:cy,stroke:'#262626','stroke-width':2},gAxes);
  
  
  const l1=mk('text',{x:2020,y:cy+13,'text-anchor':'end','font-size':46.3,fill:'#262626'},gAxes,name);
  
  
  const t2=mk('line',{x1:cx,x2:cx,y1:1594,y2:1607,stroke:'#262626','stroke-width':2},gAxes);
  
  
  const l2=mk('text',{transform:'translate('+(cx+12)+',1623) rotate(-90)','text-anchor':'end','font-size':46.3,fill:'#262626'},gAxes,name);
  
  
});
heatBarTicks.forEach((v,i)=>{
  const y=644+(1-v)/2*950;
  const t=mk('line',{x1:3108,x2:3121,y1:y,y2:y,stroke:'#262626','stroke-width':2},gBar);
  
  
  const l=mk('text',{x:3135,y:y+12.5,'font-size':34,fill:'#262626'},gBar,heatBarLabels[i]);
  
  
});
</script>
</body>
</html>
